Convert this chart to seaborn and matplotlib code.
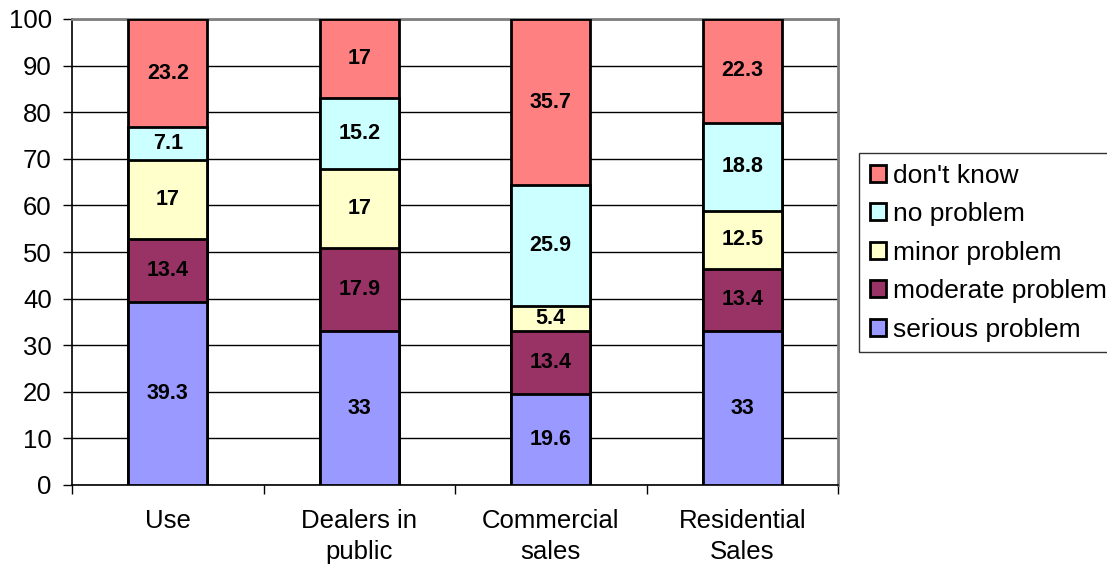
import matplotlib
matplotlib.use("Agg")
import matplotlib.pyplot as plt
from matplotlib.patches import Patch
import numpy as np
import pandas as pd
import seaborn as sns

# Survey responses (percent) per activity
categories = ["Use", "Dealers in\npublic", "Commercial\nsales", "Residential\nSales"]
series_names = ["serious problem", "moderate problem", "minor problem", "no problem", "don't know"]
serious = [39.3, 33, 19.6, 33]
moderate = [13.4, 17.9, 13.4, 13.4]
minor = [17, 17, 5.4, 12.5]
no_problem = [7.1, 15.2, 25.9, 18.8]
dont_know = [23.2, 17, 35.7, 22.3]
y_ticks = [0, 10, 20, 30, 40, 50, 60, 70, 80, 90, 100]

colors = {
    "serious problem": "#9999FF",
    "moderate problem": "#993366",
    "minor problem": "#FFFFCC",
    "no problem": "#CCFFFF",
    "don't know": "#FF8080",
}

sns.set_style("white")
plt.rcParams["font.family"] = ["Liberation Sans", "DejaVu Sans"]
plt.rcParams["text.color"] = "black"

values = [serious, moderate, minor, no_problem, dont_know]
df = pd.DataFrame({name: vals for name, vals in zip(series_names, values)})
df["category"] = categories
cum = df[series_names].cumsum(axis=1)

fig = plt.figure(figsize=(11.07, 5.71), dpi=100)
ax = fig.add_axes([72 / 1107, 1 - 485 / 571, (838 - 72) / 1107, (485 - 19) / 571])

# Stack by overlaying cumulative totals, tallest first
for name in reversed(series_names):
    sns.barplot(x=df["category"], y=cum[name], color=colors[name], ax=ax,
                width=0.41, edgecolor="black", linewidth=2, saturation=1,
                order=categories, zorder=3)

# Segment value labels, centred in the visible part of each segment
for i in range(len(categories)):
    base = 0
    for name, vals in zip(series_names, values):
        v = vals[i]
        top = min(base + v, 100)
        ax.text(i, (base + top) / 2, f"{v:g}",
                ha="center", va="center", fontsize=15.5, fontweight="bold",
                color="black", zorder=5)
        base += v

ax.set_xlim(-0.5, 3.5)
ax.set_ylim(0, 100)
ax.set_yticks(y_ticks)
ax.set_xlabel("")
ax.set_ylabel("")

ax.grid(axis="y", color="#000000", linewidth=1, zorder=0)
ax.set_axisbelow(True)

for side in ["top", "right"]:
    ax.spines[side].set_visible(True)
    ax.spines[side].set_color("#808080")
    ax.spines[side].set_linewidth(2)
for side in ["left", "bottom"]:
    ax.spines[side].set_color("black")
    ax.spines[side].set_linewidth(1.2)

ax.tick_params(axis="y", which="major", left=True, length=6.5, width=1,
               direction="out", labelsize=18.5, pad=8, colors="black")
ax.set_xticks(range(len(categories)))
ax.set_xticklabels(categories, fontsize=18.5, linespacing=1.4)
ax.tick_params(axis="x", which="major", length=0, pad=17, labelcolor="black")
ax.set_xticks([-0.5, 0.5, 1.5, 2.5, 3.5], minor=True)
ax.tick_params(axis="x", which="minor", bottom=True, length=6.5, width=1,
               direction="out", color="black")

handles = [Patch(facecolor=colors[n], edgecolor="black", linewidth=2, label=n)
           for n in reversed(series_names)]
leg = fig.legend(handles=handles, loc="upper left",
                 bbox_to_anchor=(859 / 1107, 1 - 153 / 571),
                 frameon=True, fancybox=False, fontsize=19, labelspacing=0.55,
                 handlelength=0.62, handleheight=0.62, handletextpad=0.25,
                 borderpad=0.4, borderaxespad=0)
leg.get_frame().set_edgecolor("black")
leg.get_frame().set_linewidth(1)
for t in leg.get_texts():
    t.set_color("black")

fig.savefig("out.png", dpi=100)
